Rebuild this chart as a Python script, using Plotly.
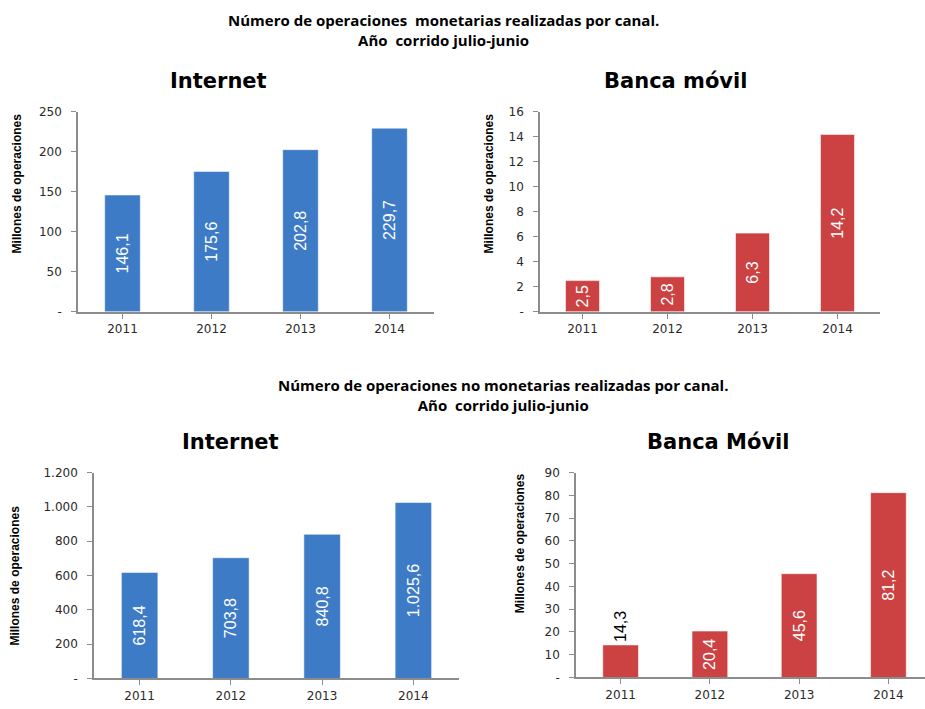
import plotly.graph_objects as go

years = ["2011", "2012", "2013", "2014"]

mon_internet = [146.1, 175.6, 202.8, 229.7]
mon_movil = [2.5, 2.8, 6.3, 14.2]
nomon_internet = [618.4, 703.8, 840.8, 1025.6]
nomon_movil = [14.3, 20.4, 45.6, 81.2]

ticks_p1 = [0, 50, 100, 150, 200, 250]
ticklbl_p1 = ["-", "50", "100", "150", "200", "250"]
ticks_p2 = [0, 2, 4, 6, 8, 10, 12, 14, 16]
ticklbl_p2 = ["-", "2", "4", "6", "8", "10", "12", "14", "16"]
ticks_p3 = [0, 200, 400, 600, 800, 1000, 1200]
ticklbl_p3 = ["-", "200", "400", "600", "800", "1.000", "1.200"]
ticks_p4 = [0, 10, 20, 30, 40, 50, 60, 70, 80, 90]
ticklbl_p4 = ["-", "10", "20", "30", "40", "50", "60", "70", "80", "90"]

title_top = "Número de operaciones  monetarias realizadas por canal.<br>Año  corrido julio-junio"
title_bottom = "Número de operaciones no monetarias realizadas por canal.<br>Año  corrido julio-junio"
panel_titles = ["Internet", "Banca móvil", "Internet", "Banca Móvil"]
ytitle = "Millones de operaciones"

BLUE = "#3e7bc7"
RED = "#cc4242"


def fmt(v):
    s = f"{v:,.1f}"
    return s.replace(",", "X").replace(".", ",").replace("X", ".")


W, H = 925, 709


def px(x):
    return x / W


def py(y):
    return 1 - y / H


panels = [
    (mon_internet, BLUE, ticks_p1, ticklbl_p1, (78, 434), (107, 311), [0, 250], [-0.5, 3.5], ["inside"] * 4),
    (mon_movil, RED, ticks_p2, ticklbl_p2, (540, 880), (107, 311), [0, 16], [-0.5, 3.5], ["inside"] * 4),
    (nomon_internet, BLUE, ticks_p3, ticklbl_p3, (94, 459), (475, 685), [0, 1200], [-0.5, 3.5], ["inside"] * 4),
    (nomon_movil, RED, ticks_p4, ticklbl_p4, (576, 925), (475, 684), [0, 90], [-0.5, 3.41],
     ["outside", "inside", "inside", "inside"]),
]

fig = go.Figure()
layout = dict(
    width=W, height=H,
    margin=dict(l=0, r=0, t=0, b=0),
    paper_bgcolor="white", plot_bgcolor="white",
    showlegend=False,
    uniformtext=dict(minsize=16, mode="show"),
    annotations=[],
)

LABEL_FONT = "Liberation Sans Narrow, Liberation Sans"

for i, (vals, col, tv, tt, (x0, x1), (ytop, yzero), yr, xr, tpos) in enumerate(panels):
    n = "" if i == 0 else str(i + 1)
    fig.add_trace(go.Bar(
        x=list(range(len(years))), y=vals,
        xaxis="x" + n, yaxis="y" + n,
        marker=dict(color=col, line=dict(color="rgba(255,255,255,0.55)", width=1)),
        width=0.4,
        text=[fmt(v) for v in vals],
        textposition=tpos,
        insidetextanchor="middle",
        textangle=-90,
        insidetextfont=dict(color="white", size=16, family=LABEL_FONT),
        outsidetextfont=dict(color="black", size=16, family=LABEL_FONT),
        cliponaxis=False,
        hoverinfo="skip",
    ))
    layout["xaxis" + n] = dict(
        domain=[px(x0), min(px(x1), 1.0)],
        anchor="y" + n,
        range=xr,
        tickmode="array", tickvals=list(range(len(years))), ticktext=years,
        showline=True, linecolor="#8c8c8c", linewidth=1.5,
        ticks="outside", ticklen=5, tickcolor="#8c8c8c", tickson="boundaries",
        showgrid=False, zeroline=False, fixedrange=True,
        tickfont=dict(family="DejaVu Sans", size=12, color="#2a2a2a"),
    )
    layout["yaxis" + n] = dict(
        domain=[py(yzero), py(ytop)],
        anchor="x" + n,
        range=yr,
        tickmode="array", tickvals=tv, ticktext=tt,
        showline=True, linecolor="#8c8c8c", linewidth=1.5,
        ticks="outside", ticklen=5, tickcolor="#8c8c8c",
        ticklabelstandoff=7,
        showgrid=False, zeroline=False, fixedrange=True,
        tickfont=dict(family="DejaVu Sans", size=12, color="#2a2a2a"),
    )

title_pos = [(218, 76), (675, 76), (230, 444), (718, 444)]
for t, (x, y) in zip(panel_titles, title_pos):
    layout["annotations"].append(dict(
        text=t, x=px(x), y=py(y), xref="paper", yref="paper",
        showarrow=False, xanchor="center", yanchor="middle",
        font=dict(family="DejaVu Sans", size=21, color="black", weight="bold"),
    ))

ytitle_pos = [(17, 180), (489, 180), (15, 580), (520, 547)]
for (x, y) in ytitle_pos:
    layout["annotations"].append(dict(
        text=ytitle, x=px(x), y=py(y), xref="paper", yref="paper",
        showarrow=False, xanchor="center", yanchor="middle", textangle=-90,
        font=dict(family=LABEL_FONT, size=12, color="black", weight="bold"),
    ))

for t, (x, y) in [(title_top, (443, 23)), (title_bottom, (503, 396))]:
    layout["annotations"].append(dict(
        text=t, x=px(x), y=py(y), xref="paper", yref="paper",
        showarrow=False, xanchor="center", yanchor="middle", align="center",
        font=dict(family="Open Sans", size=15, color="black", weight="bold"),
    ))

fig.update_layout(**layout)
fig.write_html("out.html")
